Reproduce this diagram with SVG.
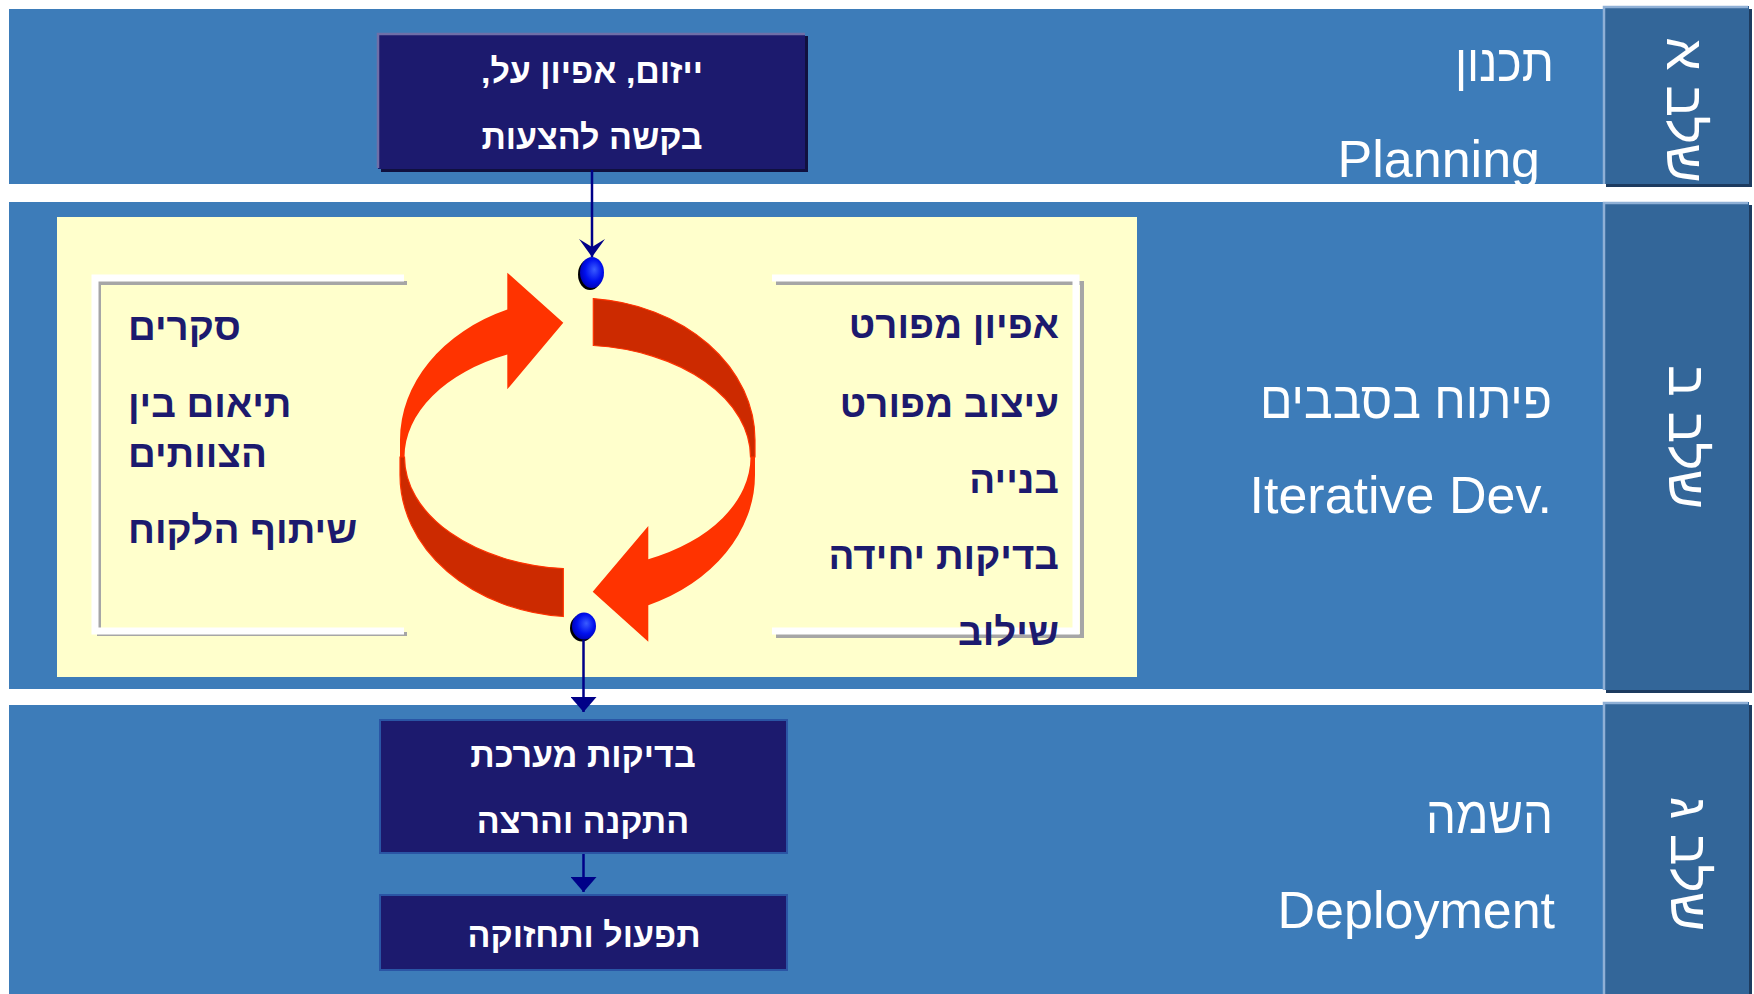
<svg xmlns="http://www.w3.org/2000/svg" width="1754" height="994" viewBox="0 0 1754 994">
<defs>
<style>
.band{fill:#3d7cb9}
.tab{fill:#336699}
.tabsh{fill:#1d3b5f}
.tabhl{fill:none;stroke:#8fb0d6;stroke-width:2.5}
.tabtx{font-family:"Liberation Sans","DejaVu Sans",sans-serif;font-size:53px;fill:#ffffff}
.lbl{font-family:"Liberation Sans","DejaVu Sans",sans-serif;font-size:52px;fill:#ffffff}
.box{fill:#1c1a6e;stroke:#2a55a5;stroke-width:2}
.btx{font-family:"Liberation Sans","DejaVu Sans",sans-serif;font-size:34px;font-weight:bold;fill:#ffffff}
.ytx{font-family:"Liberation Sans","DejaVu Sans",sans-serif;font-size:38.5px;font-weight:bold;fill:#1c1a6e}
.brw{fill:none;stroke:#ffffff;stroke-width:7}
.brg{fill:none;stroke:#a6a6a6;stroke-width:4}
.con{fill:none;stroke:#000088;stroke-width:2.5}
.bright{fill:#ff3300}
.dark{fill:#cc2a00;stroke:#ff3300;stroke-width:1.2}
</style>
<marker id="tri" viewBox="0 0 15 26" refX="15" refY="13" markerWidth="15" markerHeight="26" markerUnits="userSpaceOnUse" orient="auto">
<path d="M0,0 L15,13 L0,26 Z" fill="#000088"/>
</marker>
<marker id="stealth" viewBox="0 0 18 26" refX="18" refY="13" markerWidth="18" markerHeight="26" markerUnits="userSpaceOnUse" orient="auto">
<path d="M0,0 L18,13 L0,26 L8,13 Z" fill="#000088"/>
</marker>
<radialGradient id="ball" cx="0.55" cy="0.45" r="0.6" fx="0.6" fy="0.4">
<stop offset="0" stop-color="#3a5cff"/>
<stop offset="0.6" stop-color="#0010ee"/>
<stop offset="1" stop-color="#0000b0"/>
</radialGradient>
</defs>

<g id="bands">
<rect class="band" x="9" y="9" width="1594" height="175"/>
<rect class="band" x="9" y="202" width="1594" height="487"/>
<rect class="band" x="9" y="705" width="1594" height="289"/>
</g>

<g id="tab-a">
<rect class="tabsh" x="1606" y="9" width="146" height="178"/>
<rect class="tab" x="1603" y="6" width="146" height="178"/>
<path class="tabhl" d="M1604,184 V7 H1748"/>
<text class="tabtx" transform="translate(1667,110) rotate(90)" text-anchor="middle">שלב א</text>
</g>
<g id="tab-b">
<rect class="tabsh" x="1606" y="205" width="146" height="488"/>
<rect class="tab" x="1603" y="202" width="146" height="488"/>
<path class="tabhl" d="M1604,690 V203 H1748"/>
<text class="tabtx" transform="translate(1669,437) rotate(90)" text-anchor="middle">שלב ב</text>
</g>
<g id="tab-c">
<rect class="tabsh" x="1606" y="705" width="146" height="292"/>
<rect class="tab" x="1603" y="702" width="146" height="295"/>
<path class="tabhl" d="M1604,994 V703 H1748"/>
<text class="tabtx" transform="translate(1671,864) rotate(90)" text-anchor="middle">שלב ג</text>
</g>

<g id="label-planning">
<text class="lbl" x="1554" y="81" text-anchor="end" textLength="99" lengthAdjust="spacingAndGlyphs">תכנון</text>
<text class="lbl" x="1540" y="177" text-anchor="end">Planning</text>
</g>
<g id="label-iterative">
<text class="lbl" x="1552" y="418" text-anchor="end" textLength="292" lengthAdjust="spacingAndGlyphs">פיתוח בסבבים</text>
<text class="lbl" x="1552" y="513" text-anchor="end">Iterative Dev.</text>
</g>
<g id="label-deployment">
<text class="lbl" x="1553" y="833" text-anchor="end" textLength="127" lengthAdjust="spacingAndGlyphs">השמה</text>
<text class="lbl" x="1555" y="928" text-anchor="end">Deployment</text>
</g>

<g id="panel">
<rect x="57" y="217" width="1080" height="460" fill="#ffffcc"/>
</g>

<g id="box-initiation">
<rect x="381" y="36" width="427" height="136" fill="#10103f"/>
<rect x="378" y="33" width="427" height="136" fill="#1c1a6e"/>
<path d="M378,168 V34 H805" fill="none" stroke="#6f6fa8" stroke-width="2.5"/>
<text class="btx" x="592" y="83" text-anchor="middle" direction="rtl">ייזום, אפיון על,</text>
<text class="btx" x="592" y="149" text-anchor="middle" direction="rtl">בקשה להצעות</text>
</g>

<g id="list-left">
<path class="brg" d="M407,283 H99 V634 H407"/>
<path class="brw" d="M404,278 H95 V631 H404"/>
<text class="ytx" x="128" y="340" text-anchor="end" direction="rtl">סקרים</text>
<text class="ytx" x="128" y="417" text-anchor="end" direction="rtl">תיאום בין</text>
<text class="ytx" x="128" y="467" text-anchor="end" direction="rtl">הצוותים</text>
<text class="ytx" x="128" y="543" text-anchor="end" direction="rtl">שיתוף הלקוח</text>
</g>

<g id="list-right">
<path class="brg" d="M776,283 H1082 V636 H776"/>
<path class="brw" d="M772,278 H1076 V631 H772"/>
<text class="ytx" x="1059" y="338" text-anchor="start" direction="rtl">אפיון מפורט</text>
<text class="ytx" x="1059" y="417" text-anchor="start" direction="rtl">עיצוב מפורט</text>
<text class="ytx" x="1059" y="493" text-anchor="start" direction="rtl">בנייה</text>
<text class="ytx" x="1059" y="569" text-anchor="start" direction="rtl">בדיקות יחידה</text>
<text class="ytx" x="1059" y="645" text-anchor="start" direction="rtl">שילוב</text>
</g>

<g id="cycle">
<path class="bright" d="M507.3,309.6 A177.5,142 0 0 0 400,440 L400,457 L404.5,457 A173,112 0 0 1 507.3,354.6 L507.3,389.3 L563.3,322.7 L507.3,272.7 Z"/>
<path class="dark" d="M400,457 L400,475 A177.5,142 0 0 0 563.3,616.5 L563.3,568.6 A173,112 0 0 1 404.5,457 Z"/>
<path class="dark" d="M593.3,345.5 L593.3,298.6 A177.5,142 0 0 1 755,440 L755,457 L750.5,457 A173,112 0 0 0 593.3,345.5 Z"/>
<path class="bright" d="M755,457 L755,475 A177.5,142 0 0 1 648.3,605.2 L648.3,641.7 L592.7,591.7 L648.3,526 L648.3,559.2 A173,112 0 0 0 750.5,457 Z"/>
</g>

<g id="dot-top">
<ellipse cx="590" cy="274.5" rx="12" ry="15.5" fill="#000000"/>
<ellipse cx="592" cy="272.5" rx="12" ry="15.5" fill="url(#ball)"/>
</g>
<g id="dot-bottom">
<ellipse cx="582" cy="628" rx="12" ry="13.5" fill="#000000"/>
<ellipse cx="584" cy="626" rx="12" ry="13.5" fill="url(#ball)"/>
</g>

<g id="box-testing">
<rect class="box" x="380" y="720" width="407" height="133"/>
<text class="btx" x="583" y="767" text-anchor="middle" direction="rtl">בדיקות מערכת</text>
<text class="btx" x="583" y="833" text-anchor="middle" direction="rtl">התקנה והרצה</text>
</g>
<g id="box-operation">
<rect class="box" x="380" y="895" width="407" height="75"/>
<text class="btx" x="584" y="947" text-anchor="middle" direction="rtl">תפעול ותחזוקה</text>
</g>

<g id="connectors">
<path class="con" d="M592,170 V257" marker-end="url(#stealth)"/>
<path class="con" d="M583.5,640 V712" marker-end="url(#tri)"/>
<path class="con" d="M583.5,854 V892" marker-end="url(#tri)"/>
</g>
</svg>
